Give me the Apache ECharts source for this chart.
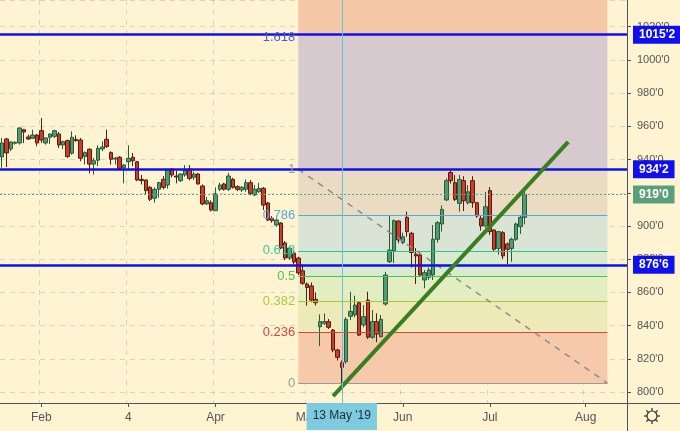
<!DOCTYPE html>
<html><head><meta charset="utf-8">
<script src="https://cdn.jsdelivr.net/npm/echarts@6/dist/echarts.min.js"></script>
<style>html,body{margin:0;padding:0;background:#fef4d2;}#c{width:680px;height:431px;}</style>
</head><body><div id="c"></div>
<script>
const categories = [
'2019-01-18','2019-01-22','2019-01-23','2019-01-24','2019-01-25','2019-01-28','2019-01-29','2019-01-30','2019-01-31','2019-02-01',
'2019-02-04','2019-02-05','2019-02-06','2019-02-07','2019-02-08','2019-02-11','2019-02-12','2019-02-13','2019-02-14','2019-02-15',
'2019-02-19','2019-02-20','2019-02-21','2019-02-22','2019-02-25','2019-02-26','2019-02-27','2019-02-28','2019-03-01','2019-03-04',
'2019-03-05','2019-03-06','2019-03-07','2019-03-08','2019-03-11','2019-03-12','2019-03-13','2019-03-14','2019-03-15','2019-03-18',
'2019-03-19','2019-03-20','2019-03-21','2019-03-22','2019-03-25','2019-03-26','2019-03-27','2019-03-28','2019-03-29','2019-04-01',
'2019-04-02','2019-04-03','2019-04-04','2019-04-05','2019-04-08','2019-04-09','2019-04-10','2019-04-11','2019-04-12','2019-04-15',
'2019-04-16','2019-04-17','2019-04-18','2019-04-22','2019-04-23','2019-04-24','2019-04-25','2019-04-26','2019-04-29','2019-04-30',
'2019-05-01','2019-05-02','2019-05-03','2019-05-06','2019-05-07','2019-05-08','2019-05-09','2019-05-10','2019-05-13','2019-05-14',
'2019-05-15','2019-05-16','2019-05-17','2019-05-20','2019-05-21','2019-05-22','2019-05-23','2019-05-24','2019-05-28','2019-05-29',
'2019-05-30','2019-05-31','2019-06-03','2019-06-04','2019-06-05','2019-06-06','2019-06-07','2019-06-10','2019-06-11','2019-06-12',
'2019-06-13','2019-06-14','2019-06-17','2019-06-18','2019-06-19','2019-06-20','2019-06-21','2019-06-24','2019-06-25','2019-06-26',
'2019-06-27','2019-06-28','2019-07-01','2019-07-02','2019-07-03','2019-07-05','2019-07-08','2019-07-09','2019-07-10','2019-07-11',
'2019-07-12','2019-07-15','2019-07-16','2019-07-17','2019-07-18','2019-07-19','2019-07-22','2019-07-23','2019-07-24','2019-07-25',
'2019-07-26','2019-07-29','2019-07-30','2019-07-31','2019-08-01','2019-08-02','2019-08-05','2019-08-06','2019-08-07','2019-08-08',
'2019-08-09','2019-08-12','2019-08-13','2019-08-14'];

const opens = [941.6,952.4,946.4,949.8,950,958,953.6,952.8,954.8,957.4,
950,953.4,954,955.4,948.8,951.4,943.8,952.2,951.8,941.8,
946.2,937.3,939.6,946.4,952.2,944.2,940.4,941.4,935,938.7,
941.4,938.7,928.1,927.7,923.3,916.7,922.1,928.1,924.7,934.2,
930.1,927.3,930.7,934.2,929.3,931.3,924.1,913.3,914,909.2,
922.1,925.3,922.1,928.1,923.7,921.7,922.1,926.1,918.7,920.6,
922.7,913.9,904.6,900.6,901.8,889.8,880.7,883.7,880.7,873,
865,863.9,855.8,839.3,841.4,842.4,837.3,825.3,817.6,818.3,
845.6,846.4,853.8,840.4,855.4,833,842.4,833.3,853,878.5,
885,903,890,905.2,895.6,883,882.5,867.5,869.1,870.5,
892,901.2,915.7,932.2,926.1,913.6,927.3,914,927.3,914,
904.6,900,921.3,897.6,886.5,896,889.2,886.5,892,899.6,
905.2];
const closes = [950,944,950.6,950.4,959,956.6,952.4,954.8,950,951.8,
953,955.4,957.4,948.8,950.8,941.8,953.4,951.4,940.8,944.2,
937.3,939.3,946.8,947.6,947.8,940.2,940.8,934.7,936.7,940.8,
939.3,927.7,927.3,921.3,916.1,922.1,926.1,923.3,933.7,930.7,
929.5,931.3,933.7,928.7,931.3,925.3,913.3,915.2,909.6,919.3,
924.7,922.1,930.1,923.3,922.1,923.3,926.1,919.7,922.1,922.7,
912.6,903.6,903.2,903.6,886.7,880.7,886.7,878.3,871.7,865.5,
863,855.4,853.8,842.4,842.4,839,825.3,820.9,814.9,843.8,
848.6,852.4,834.3,845.4,833,842.4,835,843.8,870.5,885.5,
903.2,891.6,893.5,896.6,884,882,870.5,871.9,873.5,892,
902,910,927.3,927.3,916,928,915.2,920.6,914,906,
900,911.6,896.6,886,896.6,882,886,892,901.2,905.2,
919];
const lows = [935,935.5,945,949,949,950,951.8,952.8,948,950,
949,949.4,953,947,946.2,941,943,950.8,939,937,
931.7,931,936,945,947,937,937,934,925.7,933.7,
936,927,925,918.7,915,914,917,922,922.5,929.3,
925.7,926.5,929.7,927.5,927.7,925,912.5,912.6,908.8,909,
921,921.3,921,922.5,921,920.5,920.6,918.6,918,920,
909.6,903,902,899.5,886,879.5,879.5,877,870.5,864.5,
852,854,852,827.7,840.4,838,824,819,805.4,817,
843.4,845,833.7,839,832,832,830,833,852,877.7,
877.7,889.6,889,893.6,875,865,870,862.5,867.5,867.5,
890,896.6,915,925.6,915,908.6,909,913,911,905,
897.2,899,894.6,885,882.7,880,877,878.5,891,895.2,
901];
const highs = [953,953,951,951,959.5,958.5,955,958,955.4,965,
953.4,955.8,958,956.6,951.4,952,957,954.6,953,945,
946.8,941,948.6,951,958,945,941.6,942,937.4,948.6,
944,939.2,930.7,928,924,923.3,926.6,930,934.5,935,
933.3,931.7,936.7,936.7,932.7,932,925,917.5,915.5,923.3,
926.1,926,932,929,924.5,924,928,927.7,924.6,926,
923.5,914.5,906,904.2,902.4,891,888,885,881.5,876.5,
866,866,860,846.8,847.4,844,838,826,819,845,
860.4,858,854.6,852.4,860.4,849.4,847.4,846.4,872.4,906.6,
904,903.4,896,908.6,896.5,886.7,885,873.5,875,900.6,
903,912.4,928.7,934.2,930.7,930.7,930,924.6,930,914.5,
906,920.6,923.5,898,897,897,890,893,902,906.6,
921];

const xTickLabels = {'2019-02-01':'Feb','2019-03-04':'4','2019-04-01':'Apr','2019-05-01':'May','2019-06-03':'Jun','2019-07-01':'Jul','2019-08-01':'Aug'};

const fibLevels = [0, 0.236, 0.382, 0.5, 0.618, 0.786, 1, 1.618];
const fibLabels = ['0','0.236','0.382','0.5','0.618','0.786','1','1.618'];
const fibLow = 805.4, fibHigh = 934.2;
const fibStartIdx = 68, fibEndIdx = 139;

const hLineValues = [1015.2, 934.2, 876.6];
const hLineLabels = ["1015'2", "934'2", "876'6"];
const lastPrice = 919.0, lastPriceLabel = "919'0";

const trendIdx = [76, 130];
const trendVals = [797.6, 950.7];

const crossIdx = 78, crossLabel = "13 May '19";

const yMin = 793.4, yMax = 1036.1;

// styles
const fibLineColors = ['#9a9a9a','#d9463b','#a3c93a','#4fbf4f','#2ac29c','#5aa8d8','#9a9a9a','rgba(0,0,0,0)'];
const fibLabelColors = ['#9a9a9a','#d9463b','#a8cc40','#4cc64c','#35c9a0','#5aa8d8','#9a9a9a','#4a5ec8'];
const fibZoneColors = ['#f5c9aa','#eeeab8','#e2edc2','#d8ebcc','#d9e4d4','#eadcc2','#d6cace','#f5c8a8'];

const FONT = 'Liberation Sans';
const lvlPrice = l => fibLow + l * (fibHigh - fibLow);

const zoneData = fibLevels.map((l, i) => {
  const lo = i === fibLevels.length - 1 ? hLineValues[0] : lvlPrice(l);
  const hi = i < fibLevels.length - 2 ? lvlPrice(fibLevels[i + 1]) : (i === fibLevels.length - 2 ? hLineValues[0] : yMax);
  return [{coord: [fibStartIdx, lo], itemStyle: {color: fibZoneColors[i]}}, {coord: [fibEndIdx, hi]}];
});

const levelLines = fibLevels.map((l, i) => [
  {coord: [fibStartIdx, lvlPrice(l)], lineStyle: {color: fibLineColors[i], width: 1, type: 'solid'},
   label: {show: true, position: 'start', formatter: fibLabels[i], color: fibLabelColors[i], fontSize: 13, fontFamily: FONT, distance: 3}},
  {coord: [fibEndIdx, lvlPrice(l)]}
]);

const candleData = opens.map((o, i) => [o, closes[i], lows[i], highs[i]]);

const tagLines = hLineValues.map((v, i) => ({
  yAxis: v,
  lineStyle: {color: '#1010ee', width: 2.5, type: 'solid'},
  label: {show: true, position: 'end', formatter: hLineLabels[i], color: '#fff', fontWeight: 'bold', fontSize: 12,
    fontFamily: FONT, backgroundColor: '#1010ee', padding: [3, 6, 3, 6], distance: 6}
}));

const showIdx = (idx, val) => xTickLabels[val] !== undefined;

// settings (gear) icon built from primitives
const gearCx = 652, gearCy = 416;
const gearParts = [{type: 'circle', shape: {cx: gearCx, cy: gearCy, r: 5}, style: {fill: 'none', stroke: '#333', lineWidth: 1.2}}];
for (let k = 0; k < 8; k++) {
  const a = k * Math.PI / 4;
  gearParts.push({type: 'line', shape: {x1: gearCx + Math.cos(a) * 5, y1: gearCy + Math.sin(a) * 5, x2: gearCx + Math.cos(a) * 8, y2: gearCy + Math.sin(a) * 8},
    style: {stroke: '#333', lineWidth: 1.3}});
}

const chart = echarts.init(document.getElementById('c'));
chart.setOption({
  backgroundColor: '#fef4d2',
  animation: false,
  grid: {left: 0, right: 53, top: 0, bottom: 28, containLabel: false},
  xAxis: {
    type: 'category', data: categories, boundaryGap: true,
    axisLine: {show: true, lineStyle: {color: '#50535e', width: 1}},
    axisTick: {show: true, interval: showIdx, alignWithLabel: true, length: 4, lineStyle: {color: '#50535e'}},
    axisLabel: {interval: showIdx, formatter: v => xTickLabels[v] || '', color: '#555', fontSize: 12, fontFamily: FONT, margin: 9},
    splitLine: {show: true, interval: showIdx, lineStyle: {color: 'rgba(120,130,170,0.28)', type: [5, 5], width: 1}},
    axisPointer: {
      show: true, value: crossIdx, status: 'show', type: 'line', snap: false, triggerTooltip: false,
      lineStyle: {color: '#64c2dc', width: 1, type: 'solid'},
      label: {show: true, formatter: crossLabel, backgroundColor: '#7ecbe0', color: '#1d2b33', fontSize: 12, fontFamily: FONT,
        padding: [7, 6, 8, 6], margin: 0, borderRadius: 0}
    }
  },
  yAxis: {
    type: 'value', position: 'right', min: yMin, max: yMax, splitNumber: 12, minInterval: 20, maxInterval: 20,
    axisLine: {show: true, lineStyle: {color: '#50535e', width: 1}},
    axisTick: {show: true, length: 4, lineStyle: {color: '#50535e'}},
    axisLabel: {formatter: v => (Math.abs(v % 20) < 1e-6 ? v + "'0" : ''), showMinLabel: false, showMaxLabel: false,
      color: '#555', fontSize: 11, fontFamily: FONT, margin: 10},
    splitLine: {show: true, lineStyle: {color: 'rgba(120,130,170,0.28)', type: [5, 5], width: 1}}
  },
  series: [
    {
      type: 'line', data: [], z: 1, silent: true,
      markArea: {silent: true, data: zoneData},
      markLine: {silent: true, symbol: ['none', 'none'], data: levelLines}
    },
    {
      type: 'candlestick', data: candleData, z: 3, barWidth: 4,
      itemStyle: {color: '#4f9c70', color0: '#c8402b', borderColor: '#2a5a3c', borderColor0: '#5a1a10', borderWidth: 1}
    },
    {
      type: 'line', data: [], z: 5, silent: true,
      markLine: {
        silent: true, symbol: ['none', 'none'], label: {show: false},
        data: [
          [{coord: [fibStartIdx, fibHigh], lineStyle: {color: '#8c8c8c', width: 1.5, type: [6, 6]}}, {coord: [fibEndIdx, fibLow]}],
          {yAxis: lastPrice, lineStyle: {color: '#6a9e80', width: 1, type: [2, 2]},
           label: {show: true, position: 'end', formatter: lastPriceLabel, color: '#fff', fontWeight: 'bold', fontSize: 12,
             fontFamily: FONT, backgroundColor: '#5a9f7a', padding: [3, 6, 3, 6], distance: 6}},
          ...tagLines,
          [{coord: [trendIdx[0], trendVals[0]], lineStyle: {color: '#3b7d23', width: 4, type: 'solid'}}, {coord: [trendIdx[1], trendVals[1]]}]
        ]
      }
    }
  ],
  graphic: [
    {type: 'line', shape: {x1: 627.5, y1: 0, x2: 627.5, y2: 431}, style: {stroke: '#50535e', lineWidth: 1}, z: 10},
    {type: 'line', shape: {x1: 0, y1: 403.5, x2: 680, y2: 403.5}, style: {stroke: '#50535e', lineWidth: 1}, z: 10},
    {type: 'group', z: 10, children: gearParts}
  ]
});
</script></body></html>
